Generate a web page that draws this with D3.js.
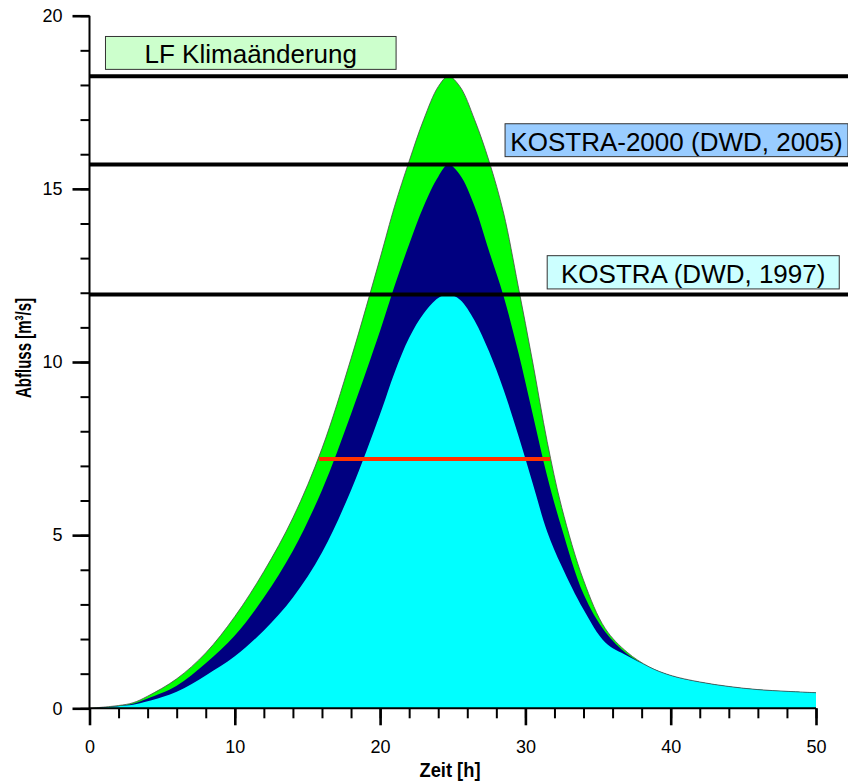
<!DOCTYPE html>
<html>
<head>
<meta charset="utf-8">
<script src="https://cdn.jsdelivr.net/npm/d3@7"></script>
<style>
  body { margin: 0; background: #fff; }
  svg { display: block; font-family: "Liberation Sans", Arial, sans-serif; }
</style>
</head>
<body>
<div id="chart"></div>
<script>
// hydrograph time steps [h]
var zeit = [0, 2, 3, 4, 6, 8, 10, 12, 14, 16, 18, 20, 21, 22, 23, 24, 24.7, 25.5, 26.5, 27.5,
  28.5, 29.5, 30.5, 31.5, 32.5, 34, 35.5, 37, 38.5, 40, 42, 44, 46, 48, 50];

// Abfluss [m3/s]
var lfKlima = [0, 0.08, 0.16, 0.35, 0.85, 1.6, 2.65, 3.95, 5.5, 7.5, 10.1, 13.0, 14.5, 15.8, 17.0, 17.95, 18.25, 17.95, 17.0, 15.8,
  14.3, 12.2, 10.0, 7.7, 5.8, 3.7, 2.3, 1.62, 1.2, 0.95, 0.76, 0.63, 0.54, 0.49, 0.45];
var kostra2000 = [0, 0.07, 0.13, 0.28, 0.65, 1.3, 2.1, 3.2, 4.55, 6.3, 8.5, 10.9, 12.2, 13.4, 14.5, 15.35, 15.7, 15.4, 14.5, 13.2,
  11.9, 10.3, 8.5, 6.7, 5.2, 3.3, 2.2, 1.57, 1.2, 0.95, 0.76, 0.63, 0.54, 0.49, 0.45];
var kostra1997 = [0, 0.06, 0.1, 0.2, 0.48, 0.95, 1.5, 2.25, 3.2, 4.5, 6.3, 8.5, 9.7, 10.7, 11.4, 11.85, 11.95, 11.8, 11.2, 10.3,
  9.2, 7.9, 6.5, 5.1, 4.1, 2.85, 1.9, 1.52, 1.2, 0.95, 0.76, 0.63, 0.54, 0.49, 0.45];

// peak levels and labels
var peakNames = ["LF Klimaänderung", "KOSTRA-2000 (DWD, 2005)", "KOSTRA (DWD, 1997)"];
var peakValues = [18.25, 15.7, 11.95];
var labelFills = ["#ccffcc", "#99ccff", "#ccffff"];
// label box: left/right in hours, Q of box top/bottom
var labelLeft = [1.1, 28.6, 31.5];
var labelRight = [21.1, 52.2, 51.6];
var labelTop = [19.4, 16.88, 13.07];
var labelBottom = [18.45, 15.93, 12.11];

// red reference line
var redLevel = 7.2;
var redFrom = 15.8, redTo = 31.7;

var xTicks = [0, 10, 20, 30, 40, 50];
var yTicks = [0, 5, 10, 15, 20];

var width = 848, height = 782;
var svg = d3.select('#chart').append('svg')
  .attr('width', width)
  .attr('height', height);

var x = d3.scaleLinear().domain([0, 50]).range([89.5, 816]);
var y = d3.scaleLinear().domain([0, 20]).range([708.3, 15.7]);

var curve = d3.curveCatmullRom.alpha(0.5);

var series = [
  {vals: lfKlima, fill: '#00ff00'},
  {vals: kostra2000, fill: '#000080'},
  {vals: kostra1997, fill: '#00ffff'}
];

series.forEach(function (s) {
  var area = d3.area()
    .x(function (d, i) { return x(zeit[i]); })
    .y0(y(0))
    .y1(function (d) { return y(d); })
    .curve(curve);
  svg.append('path')
    .datum(s.vals)
    .attr('d', area)
    .attr('fill', s.fill);
});

// thin outline on the outer hydrograph
svg.append('path')
  .datum(lfKlima)
  .attr('d', d3.line()
    .x(function (d, i) { return x(zeit[i]); })
    .y(function (d) { return y(d); })
    .curve(curve))
  .attr('fill', 'none')
  .attr('stroke', '#4a4a4a')
  .attr('stroke-width', 0.8);

// horizontal peak lines
svg.selectAll('.peak')
  .data(peakValues)
  .enter()
  .append('line')
  .attr('class', 'peak')
  .attr('x1', x(0))
  .attr('x2', width)
  .attr('y1', function (d) { return y(d); })
  .attr('y2', function (d) { return y(d); })
  .attr('stroke', '#000')
  .attr('stroke-width', 4);

// red line
svg.append('line')
  .attr('x1', x(redFrom))
  .attr('x2', x(redTo))
  .attr('y1', y(redLevel))
  .attr('y2', y(redLevel))
  .attr('stroke', '#ff3300')
  .attr('stroke-width', 4);

// label boxes
var labels = svg.selectAll('.lbl')
  .data(peakNames)
  .enter()
  .append('g')
  .attr('class', 'lbl');

labels.append('rect')
  .attr('x', function (d, i) { return x(labelLeft[i]); })
  .attr('y', function (d, i) { return y(labelTop[i]); })
  .attr('width', function (d, i) { return x(labelRight[i]) - x(labelLeft[i]); })
  .attr('height', function (d, i) { return y(labelBottom[i]) - y(labelTop[i]); })
  .attr('fill', function (d, i) { return labelFills[i]; })
  .attr('stroke', '#333')
  .attr('stroke-width', 1);

labels.append('text')
  .attr('x', function (d, i) { return (x(labelLeft[i]) + x(labelRight[i])) / 2; })
  .attr('y', function (d, i) { return y(labelBottom[i]) - 6; })
  .attr('text-anchor', 'middle')
  .attr('font-size', 26)
  .attr('fill', '#000')
  .text(function (d) { return d; });

// axes: minor + major ticks
function styleAxis(g, w) {
  g.selectAll('.domain').remove();
  g.selectAll('.tick line').attr('stroke', '#000').attr('stroke-width', w);
  g.selectAll('.tick text').attr('font-size', 18).attr('fill', '#000');
}

svg.append('g')
  .attr('transform', 'translate(0,' + y(0) + ')')
  .call(d3.axisBottom(x).tickValues(d3.range(0, 51, 2)).tickSize(10).tickFormat(''))
  .call(styleAxis, 2);
svg.append('g')
  .attr('transform', 'translate(0,' + y(0) + ')')
  .call(d3.axisBottom(x).tickValues(xTicks).tickSize(17).tickPadding(15).tickFormat(d3.format('d')))
  .call(styleAxis, 2.6);

svg.append('g')
  .attr('transform', 'translate(' + x(0) + ',0)')
  .call(d3.axisLeft(y).tickValues(d3.range(0, 21, 1)).tickSize(9).tickFormat(''))
  .call(styleAxis, 2);
svg.append('g')
  .attr('transform', 'translate(' + x(0) + ',0)')
  .call(d3.axisLeft(y).tickValues(yTicks).tickSize(17).tickPadding(10).tickFormat(d3.format('d')))
  .call(styleAxis, 2.6);

// axis lines
svg.append('line')
  .attr('x1', x(0)).attr('x2', x(50))
  .attr('y1', y(0)).attr('y2', y(0))
  .attr('stroke', '#000').attr('stroke-width', 2);
svg.append('line')
  .attr('x1', x(0)).attr('x2', x(0))
  .attr('y1', y(0)).attr('y2', y(20))
  .attr('stroke', '#000').attr('stroke-width', 2);

// axis titles (squeezed like the original)
svg.append('text')
  .attr('x', 450)
  .attr('y', 777)
  .attr('text-anchor', 'middle')
  .attr('font-size', 20)
  .attr('font-weight', 'bold')
  .attr('textLength', 61)
  .attr('lengthAdjust', 'spacingAndGlyphs')
  .text('Zeit [h]');

svg.append('text')
  .attr('transform', 'translate(31,348) rotate(-90)')
  .attr('text-anchor', 'middle')
  .attr('font-size', 22)
  .attr('font-weight', 'bold')
  .attr('textLength', 100)
  .attr('lengthAdjust', 'spacingAndGlyphs')
  .text('Abfluss [m³/s]');
</script>
</body>
</html>
